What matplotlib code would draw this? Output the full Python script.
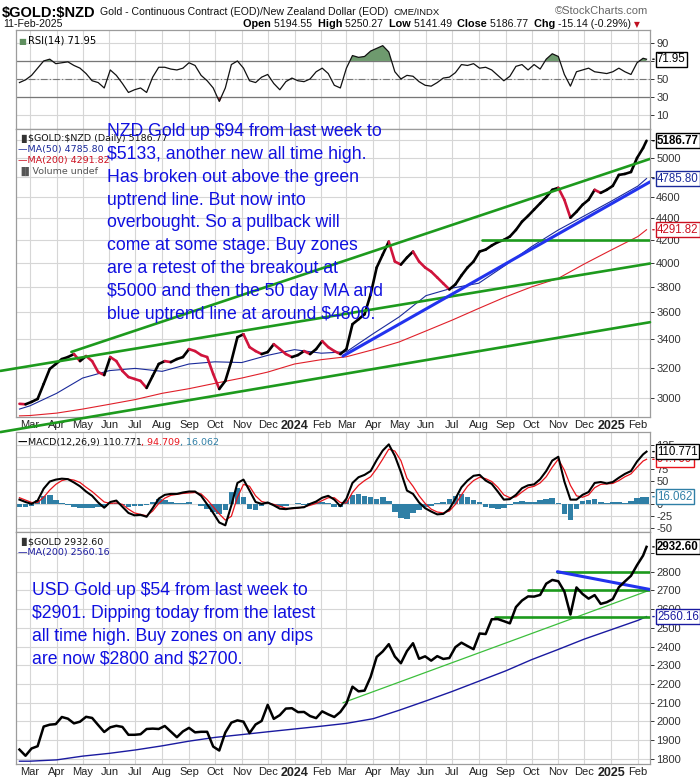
import numpy as np
import pandas as pd
import matplotlib
matplotlib.use("Agg")
import matplotlib.pyplot as plt
import matplotlib.dates as mdates
from matplotlib.collections import LineCollection
from matplotlib.ticker import NullLocator, FixedLocator

plt.rcParams['font.family'] = ['Liberation Sans', 'DejaVu Sans']

# ---------------- data ----------------
week_dates = list(pd.date_range('2023-02-17', '2025-02-07', freq='W-FRI')) + [pd.Timestamp('2025-02-11')]

nzd_close = [2963, 2960, 2975, 2994, 3091, 3191, 3225, 3259, 3273, 3294, 3245, 3280, 3245, 3170, 3150,
             3273, 3245, 3178, 3137, 3124, 3111, 3065, 3144, 3225, 3245, 3238, 3259, 3273, 3329, 3315,
             3287, 3273, 3157, 3058, 3111, 3245, 3414, 3436, 3343, 3315, 3294, 3308, 3364, 3329, 3294,
             3273, 3287, 3315, 3294, 3329, 3386, 3343, 3315, 3294, 3329, 3510, 3547, 3585, 3740, 3960,
             4071, 4185, 4011, 3985, 4045, 4097, 4011, 3960, 3926, 3877, 3828, 3780, 3820, 3894, 3960,
             4011, 4097, 4114, 4150, 4180, 4200, 4230, 4290, 4366, 4420, 4480, 4540, 4600, 4672, 4692,
             4574, 4403, 4459, 4526, 4574, 4672, 4642, 4672, 4712, 4823, 4833, 4853, 5000, 5107, 5186.77]

rsi = [46, 49, 54, 62, 70, 72, 67, 68, 69, 65, 62, 56, 48, 46, 40, 60, 54, 45, 35, 38, 40, 35, 52, 63,
       63, 61, 60, 62, 68, 65, 54, 48, 40, 25, 40, 66, 70, 62, 48, 46, 52, 55, 45, 38, 47, 51, 48, 47,
       50, 58, 62, 56, 43, 40, 62, 76, 74, 75, 81, 84, 87, 80, 58, 50, 54, 53, 47, 43, 42, 46, 51, 52,
       57, 66, 65, 67, 62, 63, 60, 54, 48, 53, 64, 66, 60, 66, 61, 72, 78, 75, 55, 42, 58, 60, 62, 58,
       57, 56, 58, 62, 58, 55, 68, 73, 71.95]

macd = [10, 5, 1, 8, 33, 48, 52, 54, 53, 46, 38, 27, 18, 4, -7, 5, 8, -5, -18, -23, -22, -26, -8, 12,
        20, 22, 22, 25, 27, 27, 18, 0, -18, -38, -44, -2, 45, 52, 29, 5, 1, 4, -2, -9, -10, -8, -7, -6,
        1, 6, 14, 18, 10, -4, 12, 45, 57, 62, 70, 93, 113, 126, 102, 68, 29, 22, 4, -8, -15, -21, -20,
        -10, 12, 36, 50, 60, 62, 50, 43, 27, 10, 11, 20, 34, 40, 42, 53, 70, 92, 100, 48, 10, 10, 20,
        26, 45, 47, 44, 47, 56, 64, 70, 90, 105, 110.771]

signal = [14, 9, 4, 4, 15, 30, 42, 50, 53, 51, 46, 36, 27, 16, 5, 2, 3, 0, -10, -18, -21, -24, -14, 2,
          13, 19, 21, 23, 24, 25, 22, 10, -5, -20, -33, -25, 15, 42, 38, 18, 6, 3, 0, -4, -8, -9, -8,
          -5, -2, 2, 8, 14, 14, 4, 3, 25, 40, 50, 58, 75, 95, 116, 112, 92, 55, 38, 18, 2, -10, -16,
          -18, -14, 0, 20, 38, 50, 57, 54, 48, 36, 20, 14, 16, 26, 35, 38, 45, 58, 78, 95, 72, 40, 18,
          15, 20, 35, 42, 43, 44, 50, 58, 64, 78, 91, 94.709]

hist = [-5, -6, -3, 10, 18, 20, 10, 3, -2, -6, -8, -7, -8, -5, -6, 2, 3, -2, -5, -4, -3, -2, 4, 12,
        10, 5, 3, 2, 4, 1, -3, -10, -15, -20, -12, 25, 35, 15, -10, -12, -4, 2, -2, -6, -3, 1, 2, -2,
        3, 5, 6, 3, -5, -6, 10, 20, 22, 18, 15, 12, 15, 8, -15, -28, -30, -18, -12, -5, -4, 2, 5, 12,
        18, 22, 15, 10, 5, -5, -8, -10, -8, -2, 5, 8, 5, 6, 10, 12, 14, 2, -20, -32, -10, 8, 10, 12,
        4, 2, 5, 6, 3, 8, 14, 16, 16.062]

usd_close = [1850, 1817, 1856, 1868, 1973, 1983, 1986, 2024, 2015, 1990, 1999, 2025, 2019, 1981, 1944,
             1969, 1977, 1971, 1929, 1929, 1932, 1960, 1962, 1960, 1976, 1946, 1916, 1947, 1966, 1942,
             1945, 1945, 1866, 1845, 1941, 1994, 2006, 1999, 1938, 1984, 2003, 2089, 2014, 2034, 2069,
             2071, 2050, 2051, 2029, 2018, 2054, 2038, 2024, 2051, 2096, 2186, 2161, 2165, 2238, 2345,
             2374, 2413, 2347, 2311, 2376, 2418, 2335, 2348, 2325, 2349, 2334, 2339, 2397, 2421, 2403,
             2386, 2470, 2467, 2546, 2547, 2536, 2524, 2611, 2646, 2668, 2667, 2676, 2736, 2756, 2749,
             2694, 2571, 2716, 2681, 2656, 2675, 2628, 2637, 2654, 2717, 2748, 2778, 2835, 2886, 2932.60]

ma_dates = pd.to_datetime(['2023-02-17', '2023-03-01', '2023-04-01', '2023-05-01', '2023-06-01',
                           '2023-07-01', '2023-08-01', '2023-09-01', '2023-10-01', '2023-11-01',
                           '2023-12-01', '2024-01-01', '2024-02-01', '2024-03-01', '2024-04-01',
                           '2024-05-01', '2024-06-01', '2024-07-01', '2024-08-01', '2024-09-01',
                           '2024-10-01', '2024-11-01', '2024-12-01', '2025-01-01', '2025-02-01',
                           '2025-02-11'])
nzd_ma50 = [2930, 2950, 3030, 3130, 3180, 3195, 3175, 3225, 3240, 3235, 3285, 3325, 3300, 3310, 3440,
            3565, 3730, 3790, 3830, 3980, 4140, 4290, 4420, 4560, 4710, 4785.80]
nzd_ma200 = [2888, 2890, 2905, 2930, 2960, 2990, 3030, 3060, 3095, 3130, 3170, 3225, 3255, 3275, 3325,
             3380, 3460, 3540, 3630, 3720, 3800, 3870, 3990, 4110, 4230, 4291.82]
usd_ma200 = [1788, 1788, 1795, 1815, 1830, 1848, 1870, 1895, 1915, 1930, 1945, 1960, 1975, 1990, 2015,
             2060, 2110, 2160, 2215, 2270, 2330, 2385, 2440, 2490, 2540, 2560.16]

# annotation lines: (start date, start value, end date, end value)
nzd_green_lines = [('2023-04-18', 3309, '2025-02-15', 4990),
                   ('2023-01-26', 3178, '2025-02-15', 3994),
                   ('2023-01-26', 2790, '2025-02-15', 3525),
                   ('2024-08-05', 4200, '2025-02-15', 4200)]
nzd_blue_line = ('2024-02-26', 3280, '2025-02-15', 4752)
usd_green_lines = [('2024-10-31', 2800, '2025-02-15', 2800),
                   ('2024-09-27', 2700, '2025-02-15', 2700),
                   ('2024-08-20', 2558, '2025-02-15', 2558)]
usd_thin_green = ('2024-02-26', 2100, '2025-02-15', 2702)
usd_blue_line = ('2024-10-31', 2800, '2025-02-15', 2705)

month_starts = pd.date_range('2023-03-01', '2025-02-01', freq='MS')
month_labels = ['Mar', 'Apr', 'May', 'Jun', 'Jul', 'Aug', 'Sep', 'Oct', 'Nov', 'Dec', '2024', 'Feb',
                'Mar', 'Apr', 'May', 'Jun', 'Jul', 'Aug', 'Sep', 'Oct', 'Nov', 'Dec', '2025', 'Feb']

nzd_ticks = [3000, 3200, 3400, 3600, 3800, 4000, 4200, 4400, 4600, 4800, 5000, 5200]
nzd_tick_labels = ['3000', '3200', '3400', '3600', '3800', '4000', '4200', '4400', '4600', '', '5000', '']
usd_ticks = [1800, 1900, 2000, 2100, 2200, 2300, 2400, 2500, 2600, 2700, 2800, 2900]
usd_tick_labels = ['1800', '1900', '2000', '2100', '2200', '2300', '2400', '2500', '2600', '2700',
                   '2800', '']
rsi_ticks = [10, 30, 50, 70, 90]
rsi_tick_labels = ['10', '30', '50', '', '90']
macd_ticks = [-50, -25, 0, 25, 50, 75, 100, 125]
macd_tick_labels = ['-50', '-25', '0', '', '50', '75', '', '125']

nzd_text = ("NZD Gold up $94 from last week to\n$5133, another new all time high.\n"
            "Has broken out above the green\nuptrend line. But now into\n"
            "overbought. So a pullback will\ncome at some stage. Buy zones\n"
            "are a retest of the breakout at\n$5000 and then the 50 day MA and\n"
            "blue uptrend line at around $4800.")
usd_text = ("USD Gold up $54 from last week to\n$2901. Dipping today from the latest\n"
            "all time high. Buy zones on any dips\nare now $2800 and $2700.")


def esc(s):
    return s.replace('$', r'\$')


# ---------------- figure ----------------
W, H = 700, 780
fig = plt.figure(figsize=(W / 100, H / 100), dpi=100)
fig.patch.set_facecolor('white')


def axes_px(left, top, right, bottom):
    return fig.add_axes([left / W, 1 - bottom / H, (right - left) / W, (bottom - top) / H])


ax_rsi = axes_px(16, 30, 650, 129)
ax_main = axes_px(16, 129, 650, 417)
ax_macd = axes_px(16, 432, 650, 532)
ax_usd = axes_px(16, 532, 650, 764)

xmin = mdates.date2num(pd.Timestamp('2023-02-13'))
xmax = mdates.date2num(pd.Timestamp('2025-02-15'))
xw = mdates.date2num(week_dates)
xm = mdates.date2num(ma_dates)
grid_c = '#d6d6d6'
TICKFONT = 8

for ax in (ax_rsi, ax_main, ax_macd, ax_usd):
    ax.set_xlim(xmin, xmax)
    ax.set_facecolor('white')
    for s in ax.spines.values():
        s.set_color('#9c9c9c')
        s.set_linewidth(0.9)
    ax.yaxis.tick_right()
    ax.tick_params(axis='y', length=3, width=0.7, pad=1.5, labelsize=TICKFONT, colors='#333333')
    ax.tick_params(axis='x', length=0, pad=2.5, labelsize=TICKFONT, colors='#222222')
    ax.set_xticks(mdates.date2num(month_starts))
    ax.grid(True, color=grid_c, linewidth=0.8, zorder=0)
    ax.set_axisbelow(True)
    ax.set_xticklabels([])

for ax in (ax_main, ax_usd):
    ax.set_xticklabels(month_labels)
    for t in ax.get_xticklabels():
        if t.get_text() in ('2024', '2025'):
            t.set_fontweight('bold')
            t.set_fontsize(9)


def colored_line(ax, x, y, lw=1.4):
    pts = np.column_stack([x, y])
    segs = np.stack([pts[:-1], pts[1:]], axis=1)
    cols = ['#d0143c' if y[i + 1] < y[i] else '#000000' for i in range(len(y) - 1)]
    lc = LineCollection(segs, colors=cols, linewidths=lw, zorder=4, capstyle='round', joinstyle='round')
    ax.add_collection(lc)


def seg_line(ax, spec, color, lw, z=5, clip=True):
    d0, v0, d1, v1 = spec
    ax.plot(mdates.date2num(pd.to_datetime([d0, d1])), [v0, v1], color=color, lw=lw,
            solid_capstyle='round', zorder=z, clip_on=clip)


def tag(ax, y, text, color, edge, bold=False):
    ax.annotate(text, xy=(1.0, y), xycoords=('axes fraction', 'data'), xytext=(5, 0),
                textcoords='offset points', ha='left', va='center', fontsize=8.3,
                color=color, fontweight='bold' if bold else 'normal', zorder=20,
                annotation_clip=False,
                bbox=dict(boxstyle='square,pad=0.12', fc='white', ec=edge, lw=1.0))
    ax.annotate('', xy=(1.0, y), xycoords=('axes fraction', 'data'), xytext=(5, 0),
                textcoords='offset points', annotation_clip=False,
                arrowprops=dict(arrowstyle='-', color=edge, lw=1.0))


# ---- RSI ----
ax_rsi.set_ylim(-5.6, 104.4)
ax_rsi.set_yticks(rsi_ticks)
ax_rsi.set_yticklabels(rsi_tick_labels)
r = np.array(rsi, dtype=float)
ax_rsi.fill_between(xw, r, 70, where=r > 70, interpolate=True, color='#6e9a6e', zorder=2, lw=0)
ax_rsi.fill_between(xw, r, 30, where=r < 30, interpolate=True, color='#a84545', zorder=2, lw=0)
ax_rsi.plot(xw, r, color='#111111', lw=0.9, zorder=3)
ax_rsi.axhline(70, color='#777777', lw=0.9, zorder=1)
ax_rsi.axhline(30, color='#777777', lw=0.9, zorder=1)
ax_rsi.axhline(50, color='#777777', lw=0.8, ls=(0, (6, 2, 1, 2)), zorder=1)
tag(ax_rsi, rsi[-1], '71.95', '#000000', '#000000')
ax_rsi.text(0.004, 0.93, '\u25A0', transform=ax_rsi.transAxes, fontsize=6, color='#5f8f5f',
            va='top', ha='left', family='DejaVu Sans')
ax_rsi.text(0.019, 0.94, 'RSI(14) 71.95', transform=ax_rsi.transAxes, fontsize=7.2,
            va='top', ha='left', family='DejaVu Sans')

# ---- main NZD ----
ax_main.set_yscale('log')
ax_main.set_ylim(2881, 5318)
ax_main.yaxis.set_major_locator(FixedLocator(nzd_ticks))
ax_main.yaxis.set_minor_locator(NullLocator())
ax_main.set_yticklabels(nzd_tick_labels)
ax_main.plot(xm, nzd_ma200, color='#e0202a', lw=0.8, zorder=3)
ax_main.plot(xm, nzd_ma50, color='#1a2a9a', lw=0.8, zorder=3)
for i, spec in enumerate(nzd_green_lines):
    seg_line(ax_main, spec, '#1d9a1d', 1.9, z=5, clip=(i in (0, 3)))
seg_line(ax_main, nzd_blue_line, '#2233ee', 2.2, z=5)
colored_line(ax_main, xw, np.array(nzd_close, dtype=float), lw=1.9)
tag(ax_main, nzd_close[-1], '5186.77', '#000000', '#000000', bold=True)
tag(ax_main, nzd_ma50[-1], '4785.80', '#1a2a9a', '#1a2a9a')
tag(ax_main, nzd_ma200[-1], '4291.82', '#cc1020', '#cc1020')

leg_font = dict(family='DejaVu Sans', fontsize=6.8, va='baseline', ha='left')
fig.text(18 / W, 1 - 141 / H, '\u2590\u258C', color='#333333', **{**leg_font, 'fontsize': 5.5})
fig.text(28 / W, 1 - 141 / H, esc('$GOLD:$NZD (Daily) 5186.77'), color='#111111', **leg_font)
fig.text(18 / W, 1 - 152 / H, '\u2014MA(50) 4785.80', color='#1a2a9a', **leg_font)
fig.text(18 / W, 1 - 163 / H, '\u2014MA(200) 4291.82', color='#cc1020', **leg_font)
fig.text(18 / W, 1 - 174 / H, '\u2590\u258CVolume undef', color='#555555', **leg_font)

fig.text(107 / W, 1 - 123 / H, esc(nzd_text), color='#1010e0', fontsize=12.7, va='top', ha='left',
         linespacing=1.45, zorder=30)

# ---- MACD ----
ax_macd.set_ylim(-58, 152)
ax_macd.set_yticks(macd_ticks)
ax_macd.set_yticklabels(macd_tick_labels)
ax_macd.bar(xw, hist, width=6.5, color='#2f7fa6', lw=0, zorder=2)
ax_macd.plot(xw, signal, color='#e8141c', lw=0.9, zorder=3)
ax_macd.plot(xw, macd, color='#000000', lw=1.5, zorder=4)
tag(ax_macd, hist[-1], '16.062', '#2f7fa6', '#2f7fa6')
tag(ax_macd, signal[-1], '94.709', '#e8141c', '#e8141c')
tag(ax_macd, macd[-1], '110.771', '#000000', '#000000')

# ---- USD ----
ax_usd.set_ylim(1773, 3012)
ax_usd.set_yticks(usd_ticks)
ax_usd.set_yticklabels(usd_tick_labels)
ax_usd.plot(xm, usd_ma200, color='#1a1aa0', lw=1.0, zorder=3)
seg_line(ax_usd, usd_thin_green, '#3cbf3c', 0.9, z=4)
for spec in usd_green_lines:
    seg_line(ax_usd, spec, '#1d9a1d', 1.9, z=5)
seg_line(ax_usd, usd_blue_line, '#2233ee', 2.2, z=6)
ax_usd.plot(xw, usd_close, color='#000000', lw=1.8, zorder=7)
tag(ax_usd, usd_close[-1], '2932.60', '#000000', '#000000', bold=True)
tag(ax_usd, usd_ma200[-1], '2560.16', '#1a1aa0', '#1a1aa0')
fig.text(18 / W, 1 - 544 / H, '\u2590\u258C', color='#333333', **{**leg_font, 'fontsize': 5.5})
fig.text(28 / W, 1 - 544 / H, esc('$GOLD 2932.60'), color='#111111', **leg_font)
fig.text(18 / W, 1 - 555 / H, '\u2014MA(200) 2560.16', color='#1a1aa0', **leg_font)

fig.text(32 / W, 1 - 582 / H, esc(usd_text), color='#1010e0', fontsize=12.7, va='top', ha='left',
         linespacing=1.45, zorder=30)

# ---- sequential text helper ----
renderer = fig.canvas.get_renderer()


def seq_text(x_px, y_px, parts):
    x = x_px
    for txt, color, weight, size, fam in parts:
        t = fig.text(x / W, 1 - y_px / H, esc(txt), color=color, fontweight=weight, fontsize=size,
                     va='baseline', ha='left', family=fam)
        bb = t.get_window_extent(renderer=renderer)
        x += bb.width
    return x


DJ = 'DejaVu Sans'
LS = ['Liberation Sans', 'DejaVu Sans']
seq_text(18, 445, [('\u2014', '#000000', 'bold', 6.8, DJ),
                   ('MACD(12,26,9) 110.771', '#111111', 'normal', 6.8, DJ),
                   (', 94.709', '#e8141c', 'normal', 6.8, DJ),
                   (', 16.062', '#2f7fa6', 'normal', 6.8, DJ)])

# ---- header ----
fig.text(2 / W, 1 - 17 / H, esc('$GOLD:$NZD'), fontsize=10.5, fontweight='bold', va='baseline',
         ha='left', color='#000000')
fig.text(100 / W, 1 - 15 / H, 'Gold - Continuous Contract (EOD)/New Zealand Dollar (EOD)',
         fontsize=7.6, va='baseline', ha='left', color='#111111')
fig.text(394 / W, 1 - 15 / H, 'CME/INDX', fontsize=6.8, va='baseline', ha='left', color='#111111')
fig.text(648 / W, 1 - 14 / H, '\u00a9StockCharts.com', fontsize=8, va='baseline', ha='right',
         color='#666666')
fig.text(3 / W, 1 - 27 / H, '11-Feb-2025', fontsize=7.6, va='baseline', ha='left', color='#111111')
seq_text(243, 27, [('Open ', '#000000', 'bold', 7.8, LS), ('5194.55  ', '#111111', 'normal', 7.6, LS),
                   ('High ', '#000000', 'bold', 7.8, LS), ('5250.27  ', '#111111', 'normal', 7.6, LS),
                   ('Low ', '#000000', 'bold', 7.8, LS), ('5141.49  ', '#111111', 'normal', 7.6, LS),
                   ('Close ', '#000000', 'bold', 7.8, LS), ('5186.77  ', '#111111', 'normal', 7.6, LS),
                   ('Chg ', '#000000', 'bold', 7.8, LS), ('-15.14 (-0.29%) ', '#111111', 'normal', 7.6, LS),
                   ('\u25BC', '#c01020', 'normal', 5.5, DJ)])

fig.savefig('out.png', dpi=100)
